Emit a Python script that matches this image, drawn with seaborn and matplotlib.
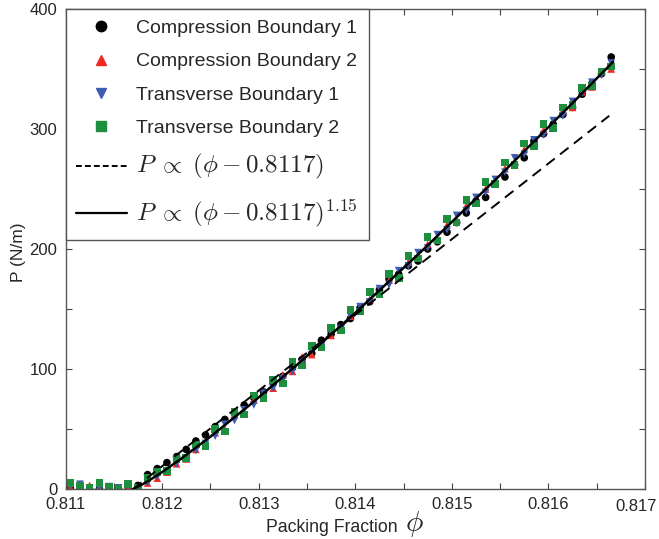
import matplotlib
matplotlib.use("Agg")
import matplotlib.pyplot as plt
from matplotlib.lines import Line2D
from matplotlib.ticker import MultipleLocator, FuncFormatter
import seaborn as sns
import pandas as pd

# ---- data ----
phi = [0.81105, 0.81115, 0.81125, 0.81135, 0.81145, 0.81155, 0.81165,
       0.81175, 0.81185, 0.81195, 0.81205, 0.81215, 0.81225, 0.81235,
       0.81245, 0.81255, 0.81265, 0.81275, 0.81285, 0.81295, 0.81305,
       0.81315, 0.81325, 0.81335, 0.81345, 0.81355, 0.81365, 0.81375,
       0.81385, 0.81395, 0.81405, 0.81415, 0.81425, 0.81435, 0.81445,
       0.81455, 0.81465, 0.81475, 0.81485, 0.81495, 0.81505, 0.81515,
       0.81525, 0.81535, 0.81545, 0.81555, 0.81565, 0.81575, 0.81585,
       0.81595, 0.81605, 0.81615, 0.81625, 0.81635, 0.81645, 0.81655,
       0.81665]

comp1 = [1, 1, 0, 0, 1, 0, 0, 3, 12, 17, 22, 27, 33, 40, 45, 52, 58, 63, 70,
         76, 81, 88, 94, 101, 108, 113, 124, 129, 137, 142, 151, 156, 166,
         175, 179, 186, 190, 200, 206, 214, 222, 230, 240, 243, 254, 260,
         270, 276, 290, 296, 304, 312, 318, 329, 338, 346, 360]

comp2 = [2, 0, 3, 2, 0, 1, 2, 1, 5, 9, 14, 21, 25, 33, 38, 47, 50, 62, 63,
         74, 80, 84, 95, 98, 110, 112, 120, 128, 134, 144, 150, 158, 163,
         174, 178, 189, 194, 204, 208, 220, 224, 236, 240, 250, 256, 267,
         270, 283, 286, 299, 303, 315, 318, 331, 335, 348, 350]

trans1 = [3, 4, 1, 0, 2, 1, 3, 0, 5, 10, 15, 21, 26, 32, 38, 44, 54, 57, 66,
          70, 80, 84, 92, 98, 106, 116, 119, 130, 134, 144, 152, 156, 167,
          170, 182, 186, 197, 201, 212, 216, 228, 232, 243, 247, 258, 264,
          276, 279, 291, 295, 307, 311, 323, 330, 339, 345, 355]

trans2 = [5, 3, 1, 5, 2, 0, 4, 1, 9, 14, 15, 25, 26, 37, 36, 50, 48, 64, 62,
          78, 76, 91, 88, 106, 103, 119, 118, 134, 132, 149, 148, 164, 162,
          179, 176, 194, 192, 210, 207, 225, 222, 241, 238, 256, 254, 272,
          270, 288, 286, 304, 301, 318, 320, 334, 336, 348, 352]

fit_phi = [0.8117, 0.8118, 0.8119, 0.8120, 0.8122, 0.8125, 0.8129, 0.8134,
           0.8140, 0.8147, 0.8155, 0.8162, 0.81667]
fit_pow = [0, 4.0, 8.9, 14.1, 25.4, 43.6, 69.5, 103.7, 146.8, 199.2, 261.5,
           317.6, 356]
lin_phi = [0.8117, 0.81663]
lin_p = [0, 311]

x_ticks = [0.811, 0.812, 0.813, 0.814, 0.815, 0.816, 0.817]
x_ticklabels = ["0.811", "0.812", "0.813", "0.814", "0.815", "0.816", "0.817"]

series_names = ["Compression Boundary 1", "Compression Boundary 2",
                "Transverse Boundary 1", "Transverse Boundary 2"]
lin_label = r"$P\;\propto\;(\phi - 0.8117)$"
pow_label = r"$P\;\propto\;(\phi - 0.8117)^{1.15}$"

# ---- styling ----
sns.set_style("ticks")
plt.rcParams["font.family"] = ["Liberation Sans", "DejaVu Sans"]
plt.rcParams["mathtext.fontset"] = "cm"

colors = {series_names[0]: "#000000", series_names[1]: "#ee2a24",
          series_names[2]: "#3d5db5", series_names[3]: "#1d8f3e"}
markers = {series_names[0]: "o", series_names[1]: "^",
           series_names[2]: "v", series_names[3]: "s"}

frames = []
for name, vals in zip(series_names, [comp1, comp2, trans1, trans2]):
    frames.append(pd.DataFrame({"phi": phi, "P": vals, "series": name}))
df = pd.concat(frames, ignore_index=True)

fig = plt.figure(figsize=(6.59, 5.39), dpi=100)
ax = fig.add_axes([65.5 / 659, 50 / 539, 579.5 / 659, 480 / 539])

sns.scatterplot(data=df, x="phi", y="P", hue="series", style="series",
                palette=colors, markers=markers, s=30, linewidth=0,
                legend=False, ax=ax, zorder=2)

sns.lineplot(x=lin_phi, y=lin_p, color="black", lw=1.4,
             linestyle=(0, (5.5, 3.5)), ax=ax, zorder=3)
sns.lineplot(x=fit_phi, y=fit_pow, color="black", lw=1.8, ax=ax, zorder=3)

ax.set_xlim(0.811, 0.817)
ax.set_ylim(0, 400)
ax.xaxis.set_major_locator(MultipleLocator(0.001))
ax.xaxis.set_minor_locator(MultipleLocator(0.0005))


def xfmt(v, pos):
    # the last label is drawn separately so that it stays inside the figure
    if abs(v - x_ticks[-1]) < 1e-7:
        return ""
    return "%.3f" % v


ax.xaxis.set_major_formatter(FuncFormatter(xfmt))
ax.yaxis.set_major_locator(MultipleLocator(100))
ax.yaxis.set_minor_locator(MultipleLocator(50))
ax.tick_params(which="both", direction="in", top=True, right=True,
               length=4, width=0.8, color="#444444", labelsize=12,
               pad=6)
for sp in ax.spines.values():
    sp.set_visible(True)
    sp.set_color("#555555")
    sp.set_linewidth(1.0)

ax.annotate(x_ticklabels[-1], xy=(x_ticks[-1], 0),
            xycoords=ax.get_xaxis_transform(), xytext=(-9, -10),
            textcoords="offset pixels", ha="center", va="top", fontsize=12)

ax.set_xlabel("")
ax.set_ylabel("")
fig.text(18 / 659, 1 - 252 / 539, "P (N/m)", rotation=90, ha="center",
         va="center", fontsize=12.5)
fig.text(332 / 659, 1 - 527 / 539, "Packing Fraction", ha="center",
         va="center", fontsize=12.7)
fig.text(414 / 659, 1 - 524 / 539, r"$\phi$", ha="center", va="center",
         fontsize=21)

handles = [Line2D([], [], linestyle="none", marker=markers[n],
                  color=colors[n], markersize=7.5) for n in series_names]
handles += [Line2D([], [], color="black", lw=1.4, linestyle=(0, (3, 1.6))),
            Line2D([], [], color="black", lw=1.6)]
labels = series_names + [lin_label, pow_label]
leg = ax.legend(handles, labels, loc="upper left", borderaxespad=0,
                frameon=True, fancybox=False, framealpha=1,
                edgecolor="#555555", fontsize=14, handlelength=2.6,
                handletextpad=0.5, labelspacing=0.8, borderpad=0.55)
leg.get_frame().set_linewidth(1.0)
for t in leg.get_texts()[4:]:
    t.set_fontsize(18)

fig.savefig("out.png", dpi=100)
